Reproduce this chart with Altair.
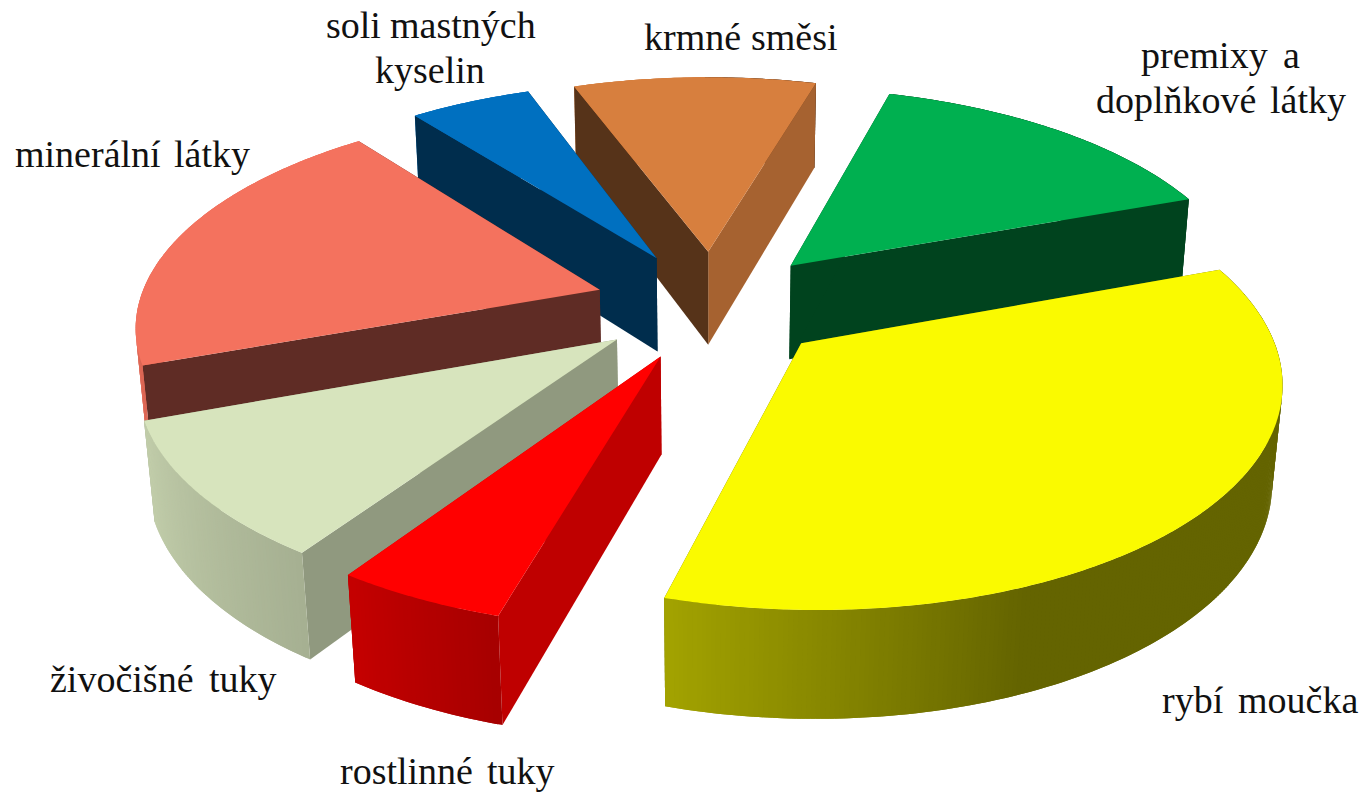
import math
import altair as alt

# Shares of feed components, in percent, clockwise around the pie.
categories = ["krmné směsi", "premixy a doplňkové látky", "rybí moučka", "rostlinné tuky",
              "živočišné tuky", "minerální látky", "soli mastných kyselin"]
shares = [10, 15, 35, 5, 10, 20, 5]

top_colors = ["#D77F3E", "#00B050", "#FAFA00", "#FF0000", "#D7E4BD", "#F4725E", "#0070C0"]
# Brightness of the two radial walls of each slice (start edge, end edge).
wall_shades = [(0.40, 0.77), (0.38, 0.38), (0.40, 0.40), (0.75, 0.75),
               (0.67, 0.67), (0.39, 0.39), (0.40, 0.40)]
# Slices are painted back to front.
paint_order = [0, 1, 6, 5, 4, 2, 3]

first_angle = -20.0
explode = 0.25
radius = 0.975

# Camera set-up of the perspective view.
center_x, center_y = 708.5, 340.0
unit_x, unit_y, depth = 484.5, 231.0, 99.0
persp_y, persp_z = 0.155, 0.018
pie_offset = (0.008, -0.156)

# Label words: text, left edge, baseline.
label_words = [
    ("soli", 326, 38), ("mastných", 390, 38),
    ("kyselin", 375, 83),
    ("krmné", 644, 50), ("směsi", 751, 50),
    ("premixy", 1141, 68), ("a", 1283, 68),
    ("doplňkové", 1096, 113), ("látky", 1270, 113),
    ("minerální", 15, 167), ("látky", 174, 167),
    ("živočišné", 50, 692), ("tuky", 209, 692),
    ("rostlinné", 340, 784), ("tuky", 487, 784),
    ("rybí", 1162, 713), ("moučka", 1238, 713),
]


def project(x, y, z):
    s = 1.0 / (1.0 - persp_y * y + persp_z * z)
    return [center_x + unit_x * x * s, center_y + (unit_y * y + depth * z) * s]


def rim_shade(angle):
    """Brightness of the outer wall at a given angle (degrees clockwise from the back)."""
    stops = [(158, 0.40), (196, 0.65), (214, 0.77), (250, 0.90), (290, 0.97)]
    a = angle % 360
    if a <= stops[0][0]:
        return stops[0][1]
    for (a0, v0), (a1, v1) in zip(stops, stops[1:]):
        if a <= a1:
            return v0 + (v1 - v0) * (a - a0) / (a1 - a0)
    return stops[-1][1]


def shaded(color, k):
    r, g, b = (int(color[i:i + 2], 16) for i in (1, 3, 5))
    return "#%02x%02x%02x" % (round(r * k), round(g * k), round(b * k))


def polygon(points, fill):
    ring = points + [points[0]]
    return {"type": "Feature", "properties": {"fill": fill},
            "geometry": {"type": "Polygon", "coordinates": [ring]}}


spans = []
angle = first_angle
for share in shares:
    sweep = share * 3.6
    spans.append((angle, angle + sweep))
    angle += sweep

features = []
for i in paint_order:
    start, end = spans[i]
    color = top_colors[i]
    mid = math.radians((start + end) / 2)
    ax = pie_offset[0] + explode * math.sin(mid)
    ay = pie_offset[1] - explode * math.cos(mid)

    def rim(a):
        t = math.radians(a)
        return ax + radius * math.sin(t), ay - radius * math.cos(t)

    def strip(a0, a1):
        x0, y0 = rim(a0)
        x1, y1 = rim(a1)
        return polygon([project(x0, y0, 0), project(x1, y1, 0),
                        project(x1, y1, 1), project(x0, y0, 1)],
                       shaded(color, rim_shade((a0 + a1) / 2)))

    def faces_camera(a):
        # Outward normal of the rim against the direction towards the camera.
        t = math.radians(a)
        px, py = rim(a)
        return -px * math.sin(t) - (1.0 / persp_y - py) * math.cos(t) > 0

    steps = max(2, int(round((end - start) * 2)))
    angles = [start + (end - start) * k / steps for k in range(steps + 1)]
    # Each strip overlaps the next by one step so that no seam shows between them.
    strips = [(a0, min(a1 + 0.5, end)) for a0, a1 in zip(angles, angles[1:])]
    far_side = [s for s in strips if not faces_camera(s[0])]
    near_side = [s for s in strips if faces_camera(s[0])]

    # Far side of the rim, radial walls, near side of the rim, then the top face.
    features += [strip(*s) for s in far_side]
    for a, k in ((end, wall_shades[i][1]), (start, wall_shades[i][0])):
        rx, ry = rim(a)
        features.append(polygon([project(ax, ay, 0), project(rx, ry, 0),
                                 project(rx, ry, 1), project(ax, ay, 1)], shaded(color, k)))
    features += [strip(*s) for s in near_side]
    top = [project(ax, ay, 0)] + [project(*rim(a), 0) for a in angles]
    features.append(polygon(top, color))

slices = alt.Chart(alt.Data(values=features)).mark_geoshape(strokeWidth=0).encode(
    color=alt.Color("properties.fill:N", scale=None),
).project(type="identity", scale=1, translate=[0, 0])

labels = alt.Chart(alt.Data(values=[{"t": t, "x": x, "y": y} for t, x, y in label_words])).mark_text(
    font="Liberation Serif", fontSize=38, align="left", baseline="alphabetic", color="#111111"
).encode(
    text="t:N",
    x=alt.X("x:Q", scale=None, axis=None),
    y=alt.Y("y:Q", scale=None, axis=None),
)

chart = alt.layer(slices, labels).properties(
    width=1366, height=793, padding=0, autosize=alt.AutoSizeParams(type="none")
).configure_view(stroke=None)

chart.save("out.html", embed_options={"renderer": "svg", "actions": False})
